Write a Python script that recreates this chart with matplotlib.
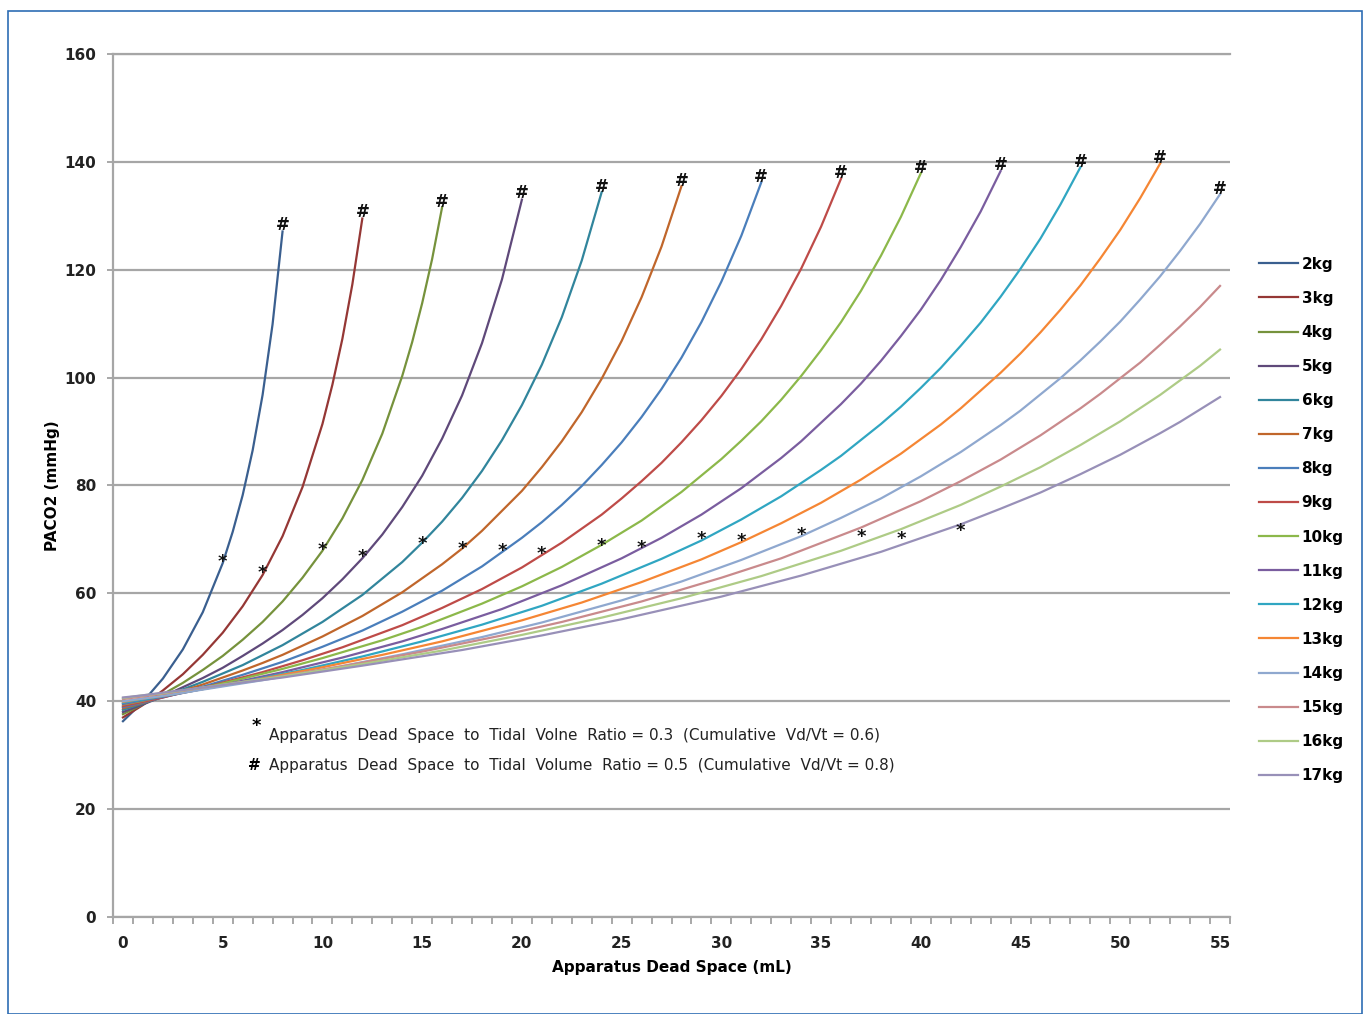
import matplotlib
matplotlib.use("Agg")
import matplotlib.pyplot as plt
from matplotlib.patches import Rectangle

plt.rcParams['font.family'] = ['Liberation Sans Narrow', 'DejaVu Sans']

# PaCO2 (mmHg), per body weight, at apparatus dead space x (mL)
weights = ["2kg", "3kg", "4kg", "5kg", "6kg", "7kg", "8kg", "9kg",
           "10kg", "11kg", "12kg", "13kg", "14kg", "15kg", "16kg", "17kg"]

x_2kg = [0, 1, 2, 3, 4, 5, 5.5, 6, 6.5, 7, 7.5, 8]
y_2kg = [36.3, 39.9, 44.2, 49.6, 56.5, 65.6, 71.4, 78.2, 86.5, 96.8, 109.9, 127.1]
x_3kg = [0, 1, 2, 3, 4, 5, 6, 7, 8, 9, 10, 10.5, 11, 11.5, 12]
y_3kg = [37.0, 39.3, 42.0, 45.0, 48.6, 52.7, 57.6, 63.4, 70.6, 79.7, 91.4, 98.7, 107.2, 117.3, 129.5]
x_4kg = [0, 1, 2, 3, 4, 5, 6, 7, 8, 9, 10, 11, 12, 13, 14, 14.5, 15, 15.5, 16]
y_4kg = [37.6, 39.4, 41.3, 43.4, 45.8, 48.4, 51.4, 54.7, 58.5, 62.9, 67.9, 73.9, 81.0, 89.6,
         100.3, 106.6, 113.8, 122.0, 131.6]
x_5kg = [0, 1, 2, 3, 4, 5, 6, 7, 8, 9, 10, 11, 12, 13, 14, 15, 16, 17, 18, 19, 20]
y_5kg = [38.0, 39.4, 40.9, 42.6, 44.3, 46.2, 48.4, 50.7, 53.2, 56.0, 59.1, 62.6, 66.5, 70.9,
         76.0, 81.8, 88.7, 96.7, 106.4, 118.2, 133.0]
x_6kg = [0, 1, 2, 3, 4, 6, 8, 10, 12, 14, 15, 16, 17, 18, 19, 20, 21, 22, 23, 24]
y_6kg = [38.4, 39.6, 40.8, 42.2, 43.6, 46.7, 50.4, 54.7, 59.7, 65.8, 69.4, 73.3, 77.7, 82.7,
         88.4, 94.9, 102.4, 111.2, 121.7, 134.4]
x_7kg = [0, 1, 2, 4, 6, 7, 8, 10, 12, 14, 16, 17, 18, 20, 21, 22, 23, 24, 25, 26, 27, 28]
y_7kg = [38.7, 39.7, 40.8, 43.1, 45.7, 47.1, 48.6, 52.0, 55.8, 60.2, 65.4, 68.3, 71.6, 79.0,
         83.4, 88.2, 93.6, 99.8, 106.8, 114.9, 124.3, 135.5]
x_8kg = [0, 1, 2, 4, 6, 8, 10, 12, 14, 16, 18, 20, 21, 22, 23, 24, 25, 26, 27, 28, 29, 30, 31, 32]
y_8kg = [38.9, 39.8, 40.7, 42.7, 44.9, 47.3, 50.1, 53.1, 56.6, 60.5, 65.0, 70.3, 73.2, 76.4,
         79.9, 83.8, 88.0, 92.7, 97.9, 103.7, 110.3, 117.8, 126.3, 136.2]
x_9kg = [0, 1, 2, 4, 7, 9, 11, 14, 16, 18, 20, 22, 24, 25, 26, 27, 28, 29, 30, 31, 32, 33, 34, 35, 36]
y_9kg = [39.1, 39.9, 40.7, 42.5, 45.4, 47.6, 50.0, 54.1, 57.3, 60.8, 64.8, 69.4, 74.6, 77.6,
         80.8, 84.2, 88.0, 92.1, 96.6, 101.6, 107.1, 113.3, 120.2, 128.0, 136.9]
x_10kg = [0, 1, 2, 5, 8, 10, 13, 15, 18, 20, 22, 24, 26, 28, 30, 31, 32, 33, 34, 35, 36, 37, 38, 39, 40]
y_10kg = [39.4, 40.1, 40.9, 43.3, 46.0, 48.0, 51.3, 53.8, 58.1, 61.3, 64.9, 69.0, 73.5, 78.8,
          84.9, 88.3, 91.9, 95.9, 100.3, 105.1, 110.3, 116.1, 122.6, 129.8, 137.9]
x_11kg = [0, 1, 2, 5, 8, 11, 14, 16, 19, 22, 25, 27, 29, 31, 33, 34, 36, 37, 38, 39, 40, 41, 42, 43, 44]
y_11kg = [39.5, 40.2, 40.8, 43.0, 45.4, 48.1, 51.1, 53.4, 57.1, 61.5, 66.5, 70.3, 74.6, 79.5,
          85.1, 88.2, 95.1, 98.9, 103.1, 107.7, 112.6, 118.1, 124.2, 130.8, 138.3]
x_12kg = [0, 1, 2, 6, 9, 12, 15, 18, 21, 24, 27, 29, 31, 33, 35, 36, 38, 39, 40, 41, 42, 43,
          44, 45, 46, 47, 48]
y_12kg = [39.7, 40.3, 40.9, 43.6, 45.8, 48.3, 51.1, 54.2, 57.7, 61.8, 66.4, 69.8, 73.7, 78.0,
          82.9, 85.5, 91.4, 94.6, 98.1, 101.8, 105.9, 110.2, 115.0, 120.2, 125.8, 132.1, 139.0]
x_13kg = [0, 1, 2, 6, 10, 13, 16, 20, 23, 26, 29, 31, 33, 35, 37, 39, 41, 42, 44, 45, 46, 47,
          48, 49, 50, 51, 52]
y_13kg = [39.9, 40.5, 41.0, 43.5, 46.3, 48.6, 51.1, 55.0, 58.3, 62.1, 66.3, 69.5, 73.0, 76.8,
          81.1, 85.9, 91.3, 94.3, 100.9, 104.5, 108.4, 112.6, 117.1, 122.1, 127.4, 133.3, 139.7]
x_14kg = [0, 1, 2, 7, 10, 14, 18, 21, 25, 28, 31, 34, 36, 38, 40, 42, 44, 45, 47, 48, 49, 50,
          51, 52, 53, 54, 55]
y_14kg = [40.0, 40.5, 41.0, 43.9, 45.8, 48.7, 51.9, 54.6, 58.7, 62.2, 66.2, 70.6, 74.0, 77.6,
          81.7, 86.2, 91.2, 93.9, 99.9, 103.2, 106.7, 110.4, 114.5, 118.8, 123.5, 128.5, 134.0]
x_15kg = [0, 1, 2, 8, 11, 15, 19, 22, 26, 30, 33, 37, 40, 42, 44, 46, 48, 49, 51, 52, 53, 54, 55]
y_15kg = [40.4, 40.9, 41.4, 44.7, 46.5, 49.2, 52.2, 54.7, 58.5, 62.9, 66.5, 72.2, 77.1, 80.8,
          84.8, 89.3, 94.3, 97.0, 102.8, 106.1, 109.5, 113.1, 117.0]
x_16kg = [0, 1, 2, 8, 12, 16, 20, 24, 28, 32, 36, 39, 42, 44, 46, 48, 50, 52, 54, 55]
y_16kg = [40.6, 41.1, 41.5, 44.6, 46.9, 49.4, 52.3, 55.5, 59.1, 63.2, 67.9, 71.9, 76.4, 79.8,
          83.4, 87.5, 91.9, 96.8, 102.2, 105.2]
x_17kg = [0, 1, 2, 8, 12, 17, 21, 25, 30, 34, 38, 42, 44, 46, 48, 50, 52, 53, 54, 55]
y_17kg = [40.7, 41.1, 41.6, 44.4, 46.6, 49.5, 52.2, 55.2, 59.4, 63.3, 67.7, 72.8, 75.7, 78.7,
          82.1, 85.7, 89.7, 91.8, 94.1, 96.4]

xs = [x_2kg, x_3kg, x_4kg, x_5kg, x_6kg, x_7kg, x_8kg, x_9kg,
      x_10kg, x_11kg, x_12kg, x_13kg, x_14kg, x_15kg, x_16kg, x_17kg]
ys = [y_2kg, y_3kg, y_4kg, y_5kg, y_6kg, y_7kg, y_8kg, y_9kg,
      y_10kg, y_11kg, y_12kg, y_13kg, y_14kg, y_15kg, y_16kg, y_17kg]

# "*" labels (Vd/Vt = 0.3) and "#" labels (Vd/Vt = 0.5)
star_x = [5, 7, 10, 12, 15, 17, 19, 21, 24, 26, 29, 31, 34, 37, 39, 42]
star_y = [67.1, 64.9, 69.3, 68.0, 70.4, 69.5, 69.1, 68.5, 70.0, 69.7, 71.2, 71.0, 72.1, 71.7, 71.3, 72.7]
hash_x = [8, 12, 16, 20, 24, 28, 32, 36, 40, 44, 48, 52, 55]
hash_y = [128.3, 130.7, 132.6, 134.2, 135.3, 136.4, 137.2, 137.9, 138.9, 139.4, 140.0, 140.7, 135.0]

colors = ["#3A5F8F", "#953735", "#76923C", "#5F497A", "#31859C", "#C0662B",
          "#4A7EBB", "#BE4B48", "#8CB84A", "#7A5D9F", "#30A6C2", "#F58634",
          "#8FA8CF", "#C98A8C", "#AECB86", "#9890B8"]

fig = plt.figure(figsize=(13.67, 10.14), dpi=100)
ax = fig.add_axes([113 / 1367, 1 - 917 / 1014, (1230 - 113) / 1367, (917 - 54) / 1014])

for x, y, c, lab in zip(xs, ys, colors, weights):
    ax.plot(x, y, color=c, lw=1.6, label=lab, zorder=3)

for x, y in zip(star_x, star_y):
    ax.text(x, y - 1.2, "*", ha="center", va="center", fontsize=13,
            fontweight="bold", color="#111111", zorder=5)
for x, y in zip(hash_x, hash_y):
    ax.text(x, y, "#", ha="center", va="center", fontsize=12,
            fontweight="bold", color="#111111", zorder=5)

ax.set_xlim(-0.5, 55.5)
ax.set_ylim(0, 160)
ax.set_yticks(range(0, 161, 20))
ax.set_xticks(range(0, 56, 5))
ax.set_xticks([i - 0.5 for i in range(57)], minor=True)
ax.tick_params(axis="x", which="major", length=0, pad=14)
ax.tick_params(axis="x", which="minor", length=5, color="#999999", width=1.2)
ax.tick_params(axis="y", length=4, color="#999999", width=1.2, pad=8)
for lbl in ax.get_xticklabels() + ax.get_yticklabels():
    lbl.set_fontweight("bold")
    lbl.set_fontsize(11)
    lbl.set_color("#222222")

ax.grid(axis="y", color="#A6A6A6", lw=1.6, zorder=1)
ax.set_axisbelow(True)
for s in ["top", "right"]:
    ax.spines[s].set_visible(False)
for s in ["left", "bottom"]:
    ax.spines[s].set_color("#A6A6A6")
    ax.spines[s].set_linewidth(1.6)
ax.axhline(160, color="#A6A6A6", lw=1.6, zorder=1, clip_on=False)

ax.set_xlabel("Apparatus Dead Space (mL)", fontsize=11, fontweight="bold", labelpad=6)
ax.set_ylabel("PACO2 (mmHg)", fontsize=11, fontweight="bold", labelpad=3)

ax.text(6.7, 35.5, "*", fontsize=13, fontweight="bold", ha="center", va="center")
ax.text(7.3, 33.6, "Apparatus  Dead  Space  to  Tidal  Volne  Ratio = 0.3  (Cumulative  Vd/Vt = 0.6)",
        fontsize=11, va="center", color="#222222")
ax.text(6.6, 28.0, "#", fontsize=11, fontweight="bold", ha="center", va="center")
ax.text(7.3, 28.0, "Apparatus  Dead  Space  to  Tidal  Volume  Ratio = 0.5  (Cumulative  Vd/Vt = 0.8)",
        fontsize=11, va="center", color="#222222")

fig.legend(loc="upper left", bbox_to_anchor=(1245 / 1367, 1 - 243 / 1014),
           frameon=False, labelspacing=1.25, handlelength=2.6,
           handletextpad=0.2, prop={"weight": "bold", "size": 11})

fig.patches.append(Rectangle((8 / 1367, 0), (1362 - 8) / 1367, 1 - 11 / 1014,
                             transform=fig.transFigure, fill=False,
                             edgecolor="#2E6DB4", lw=1.2))

fig.savefig("out.png", dpi=100)
